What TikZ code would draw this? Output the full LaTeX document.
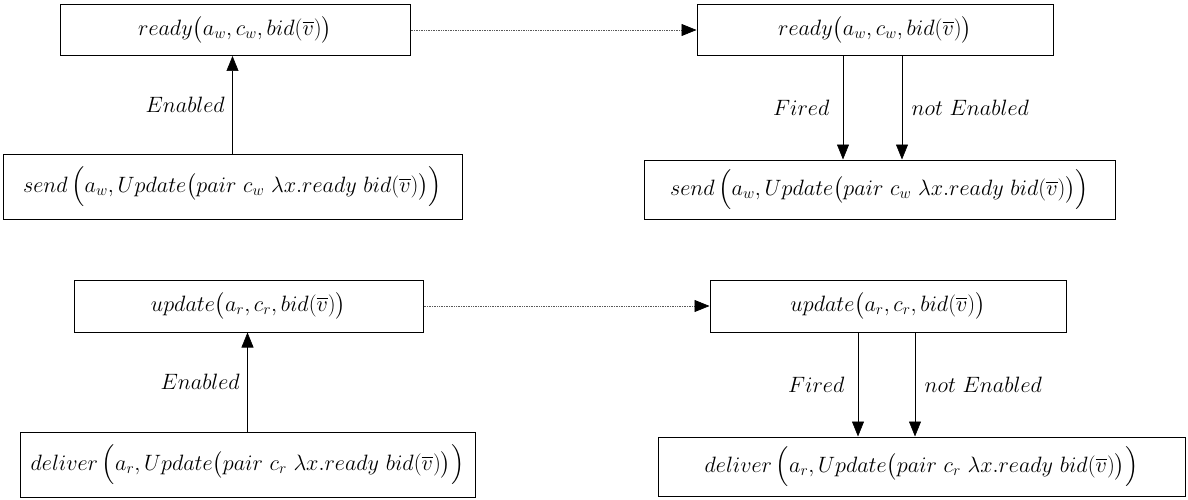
\documentclass[tikz,border=0pt]{standalone}
\usepackage{fix-cm}
\usepackage{amsmath,amssymb}
\usetikzlibrary{arrows.meta,positioning,calc}

\begin{document}
\begin{tikzpicture}[x=1pt,y=-1pt,>={Triangle[length=15pt,width=12pt,color=black]},font=\fontsize{22.2}{27}\selectfont,
 rule/.style={draw,line width=1pt,inner sep=0pt},
 link/.style={->,line width=.6pt},
 hop/.style={->,line width=.7pt,densely dotted,gray!70!black}]
 \useasboundingbox (0,0) rectangle (1188,500);
 % write side
 \node[rule,minimum width=350pt,minimum height=51pt] (r1) at (235,30) {$ready\big(a_w,c_w,bid(\overline{v})\big)$};
 \node[rule,minimum width=459pt,minimum height=65pt] (s1) at (232.5,186.5) {$send\,\Big(a_w,Update\big(pair\ c_w\ \lambda x.ready\ bid(\overline{v})\big)\Big)$};
 \node[rule,minimum width=356pt,minimum height=51pt] (r2) at (875,30) {$ready\big(a_w,c_w,bid(\overline{v})\big)$};
 \node[rule,minimum width=471pt,minimum height=59pt] (s2) at (879.5,189.5) {$send\,\Big(a_w,Update\big(pair\ c_w\ \lambda x.ready\ bid(\overline{v})\big)\Big)$};
 \draw[link] (s1.north) -- node[left=4pt]{$Enabled$} (s1.north |- r1.south);
 \draw[hop] (r1.east) -- (r2.west);
 \draw[link] ([xshift=-32pt]r2.south) -- node[left=10pt]{$Fired$} ([xshift=-32pt]r2.south |- s2.north);
 \draw[link] ([xshift=27pt]r2.south) -- node[right=6pt]{$not\ Enabled$} ([xshift=27pt]r2.south |- s2.north);
 % read side
 \node[rule,minimum width=349pt,minimum height=52pt] (u1) at (248.5,306) {$update\big(a_r,c_r,bid(\overline{v})\big)$};
 \node[rule,minimum width=455pt,minimum height=65pt] (d1) at (247.5,464.5) {$deliver\,\Big(a_r,Update\big(pair\ c_r\ \lambda x.ready\ bid(\overline{v})\big)\Big)$};
 \node[rule,minimum width=356pt,minimum height=52pt] (u2) at (888,306) {$update\big(a_r,c_r,bid(\overline{v})\big)$};
 \node[rule,minimum width=527pt,minimum height=59pt] (d2) at (921.5,466.5) {$deliver\,\Big(a_r,Update\big(pair\ c_r\ \lambda x.ready\ bid(\overline{v})\big)\Big)$};
 \draw[link] (d1.north) -- node[left=4pt]{$Enabled$} (d1.north |- u1.south);
 \draw[hop] (u1.east) -- (u2.west);
 \draw[link] ([xshift=-30pt]u2.south) -- node[left=10pt]{$Fired$} ([xshift=-30pt]u2.south |- d2.north);
 \draw[link] ([xshift=27pt]u2.south) -- node[right=6pt]{$not\ Enabled$} ([xshift=27pt]u2.south |- d2.north);
\end{tikzpicture}
\end{document}
